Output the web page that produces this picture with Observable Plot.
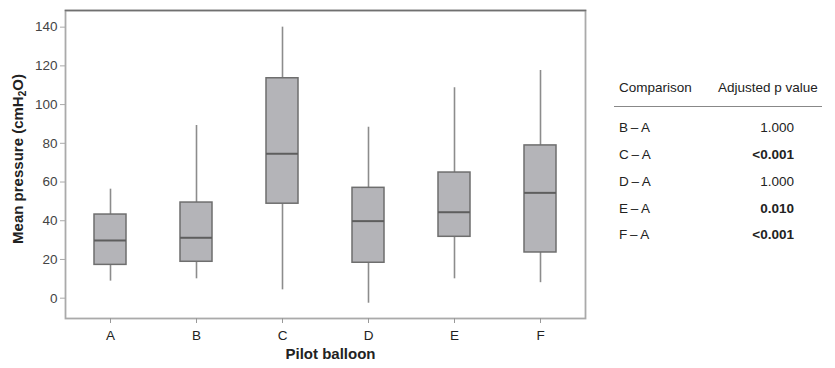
<!DOCTYPE html>
<html>
<head>
<meta charset="utf-8">
<script src="https://cdn.jsdelivr.net/npm/d3@7"></script>
<script src="https://cdn.jsdelivr.net/npm/@observablehq/plot@0.6"></script>
<style>
  html, body { margin: 0; padding: 0; background: #fff; }
  #wrap { position: relative; width: 835px; height: 368px; font-family: "Liberation Sans", Arial, sans-serif; }
  #chart { position: absolute; left: 0; top: 0; }
  .tbl { position: absolute; font-size: 13.5px; color: #222; white-space: nowrap; }
  .rule { position: absolute; left: 614px; top: 106px; width: 208px; height: 0; border-top: 1.5px solid #888; }
</style>
</head>
<body>
<div id="wrap">
  <div id="chart"></div>
  <div id="table"></div>
</div>
<script>
// ---- data ----
const categories = ["A", "B", "C", "D", "E", "F"];
const whiskerLow  = [8.8, 10.0, 4.3, -2.6, 10.0, 8.0];
const quartile1   = [17.2, 18.8, 48.8, 18.3, 31.7, 23.6];
const medians     = [29.8, 31.2, 74.6, 39.8, 44.4, 54.4];
const quartile3   = [43.2, 49.4, 113.6, 57.0, 64.9, 78.9];
const whiskerHigh = [56.3, 89.2, 140.0, 88.3, 108.7, 117.6];
const yTicks = [0, 20, 40, 60, 80, 100, 120, 140];

const comparisons = ["B\u2009\u2013\u2009A", "C\u2009\u2013\u2009A", "D\u2009\u2013\u2009A", "E\u2009\u2013\u2009A", "F\u2009\u2013\u2009A"];
const pValues = ["1.000", "<0.001", "1.000", "0.010", "<0.001"];
const pBold = [false, true, false, true, true];

const xLabel = "Pilot balloon";

const boxes = categories.map((c, i) => ({
  cat: c, lo: whiskerLow[i], q1: quartile1[i], med: medians[i], q3: quartile3[i], hi: whiskerHigh[i]
}));

const plot = Plot.plot({
  width: 600,
  height: 368,
  marginLeft: 65,
  marginRight: 15,
  marginTop: 10,
  marginBottom: 50,
  style: { fontFamily: "Liberation Sans, Arial, sans-serif", background: "transparent", overflow: "visible" },
  x: { domain: categories, type: "band", paddingInner: 0.625, paddingOuter: 0.3125 },
  y: { domain: [-10.5, 148.6] },
  marks: [
    Plot.ruleX(boxes, { x: "cat", y1: "lo", y2: "q1", stroke: "#8c8c8c", strokeWidth: 1.6 }),
    Plot.ruleX(boxes, { x: "cat", y1: "q3", y2: "hi", stroke: "#8c8c8c", strokeWidth: 1.6 }),
    Plot.barY(boxes, { x: "cat", y1: "q1", y2: "q3", fill: "#b4b4b8", stroke: "#6e6e6e", strokeWidth: 1.5 }),
    Plot.tickY(boxes, { x: "cat", y: "med", stroke: "#5e5e5e", strokeWidth: 2 }),
    Plot.frame({ stroke: "#aaa", strokeWidth: 1.8 }),
    Plot.frame({ anchor: "top", stroke: "#707070", strokeWidth: 1.5 }),
    Plot.axisY({ ticks: yTicks, tickSize: 5, tickPadding: 3, stroke: "#aaa", fill: "#444", fontSize: 13.5, label: null }),
    Plot.axisX({ tickSize: 5, tickPadding: 7, stroke: "#999", fill: "#222", fontSize: 13.5, label: null }),
    Plot.text([xLabel], { text: d => d, frameAnchor: "bottom", dy: 40, dx: 5, fontSize: 15, fontWeight: "bold", fill: "#222" })
  ]
});
document.getElementById("chart").appendChild(plot);

// y axis title with a real subscript
const svg = d3.select(plot);
const yt = svg.append("text")
  .attr("transform", "translate(19,159) rotate(-90)")
  .attr("text-anchor", "middle")
  .attr("dominant-baseline", "middle")
  .attr("font-size", 15)
  .attr("font-weight", "bold")
  .attr("fill", "#222");
yt.append("tspan").text("Mean pressure (cmH");
yt.append("tspan").attr("font-size", 10).attr("dy", 4).text("2");
yt.append("tspan").attr("dy", -4).text("O)");

// table
const t = document.getElementById("table");
function add(html, style) {
  const d = document.createElement("div");
  d.className = "tbl";
  d.innerHTML = html;
  Object.assign(d.style, style);
  t.appendChild(d);
}
add("Comparison", { left: "619px", top: "80px" });
add("Adjusted p value", { left: "718px", top: "80px" });
const r = document.createElement("div"); r.className = "rule"; t.appendChild(r);
const rowY = [120, 147, 174, 201, 227];
comparisons.forEach((c, i) => {
  add(c, { left: "619px", top: rowY[i] + "px" });
  const v = pValues[i].replace("<", "&lt;");
  add(v, { right: (835 - 794) + "px", top: rowY[i] + "px", fontWeight: pBold[i] ? "bold" : "normal" });
});
</script>
</body>
</html>
